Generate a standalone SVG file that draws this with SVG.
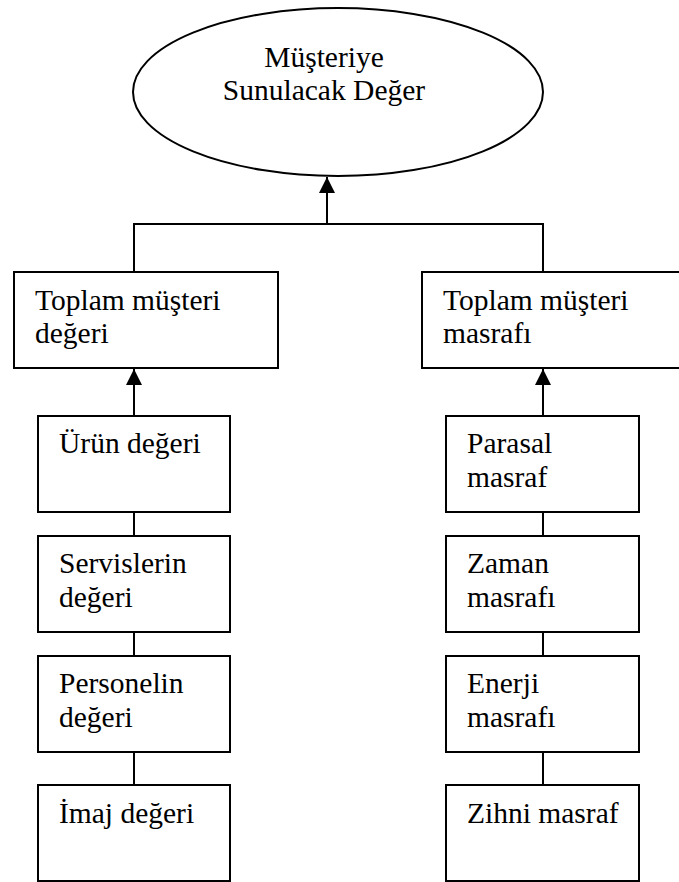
<svg xmlns="http://www.w3.org/2000/svg" width="679" height="882" viewBox="0 0 679 882">
<style>
.n{fill:#fff;stroke:#000;stroke-width:2}
.t{font-family:"Liberation Serif","Times New Roman",serif;font-size:29.5px;fill:#000}
.c{fill:none;stroke:#000;stroke-width:2}
</style>
<defs>
<marker id="ah" viewBox="0 0 16 16" refX="16" refY="8" markerWidth="16" markerHeight="16" markerUnits="userSpaceOnUse" orient="auto">
<path d="M0,0 L16,8 L0,16 Z" fill="#000"/>
</marker>
</defs>
<rect width="679" height="882" fill="#fff"/>
<g id="connectors">
<path class="c" d="M134,272 V224 H543 V272"/>
<path class="c" d="M327,224 V177" marker-end="url(#ah)"/>
<path class="c" d="M134,416 V369" marker-end="url(#ah)"/>
<path class="c" d="M543,416 V369" marker-end="url(#ah)"/>
<path class="c" d="M134,512 V536 M134,632 V656 M134,752 V785"/>
<path class="c" d="M543,512 V536 M543,632 V656 M543,752 V785"/>
</g>
<g id="musteriye">
<ellipse class="n" cx="338" cy="92" rx="205" ry="84"/>
<text class="t" x="324" y="67" text-anchor="middle">Müşteriye</text>
<text class="t" x="324" y="100" text-anchor="middle">Sunulacak Değer</text>
</g>
<g id="toplam-deger">
<rect class="n" x="14" y="272" width="264" height="96"/>
<text class="t" x="35" y="310">Toplam müşteri</text>
<text class="t" x="35" y="343">değeri</text>
</g>
<g id="toplam-masraf">
<rect class="n" x="422" y="272" width="264" height="96"/>
<text class="t" x="443" y="310">Toplam müşteri</text>
<text class="t" x="443" y="343">masrafı</text>
</g>
<g id="urun">
<rect class="n" x="38" y="416" width="192" height="96"/>
<text class="t" x="59" y="453">Ürün değeri</text>
</g>
<g id="servis">
<rect class="n" x="38" y="536" width="192" height="96"/>
<text class="t" x="59" y="573">Servislerin</text>
<text class="t" x="59" y="607">değeri</text>
</g>
<g id="personel">
<rect class="n" x="38" y="656" width="192" height="96"/>
<text class="t" x="59" y="693">Personelin</text>
<text class="t" x="59" y="727">değeri</text>
</g>
<g id="imaj">
<rect class="n" x="38" y="785" width="192" height="96"/>
<text class="t" x="59" y="823">İmaj değeri</text>
</g>
<g id="parasal">
<rect class="n" x="446" y="416" width="193" height="96"/>
<text class="t" x="467" y="453">Parasal</text>
<text class="t" x="467" y="487">masraf</text>
</g>
<g id="zaman">
<rect class="n" x="446" y="536" width="193" height="96"/>
<text class="t" x="467" y="573">Zaman</text>
<text class="t" x="467" y="607">masrafı</text>
</g>
<g id="enerji">
<rect class="n" x="446" y="656" width="193" height="96"/>
<text class="t" x="467" y="693">Enerji</text>
<text class="t" x="467" y="727">masrafı</text>
</g>
<g id="zihni">
<rect class="n" x="446" y="785" width="193" height="96"/>
<text class="t" x="467" y="823">Zihni masraf</text>
</g>
</svg>
